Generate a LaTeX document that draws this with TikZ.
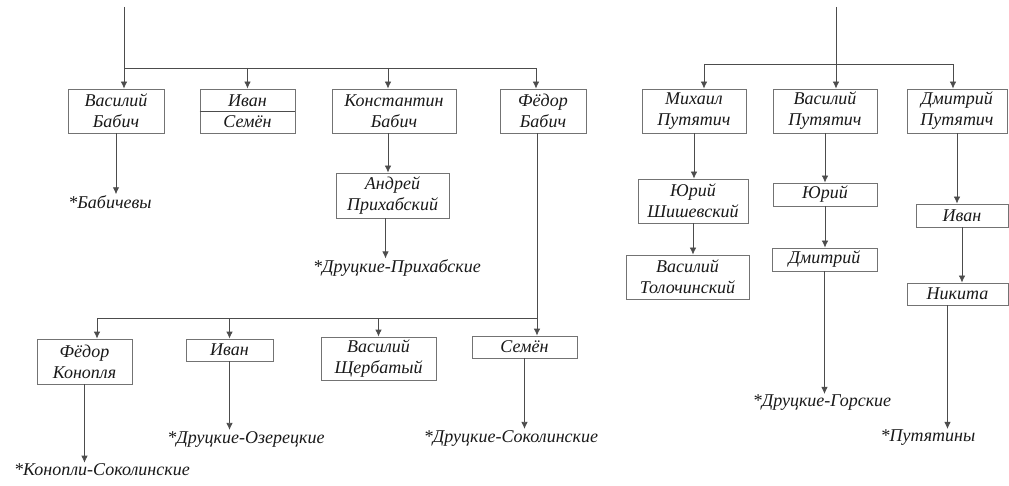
\documentclass[tikz,border=0pt]{standalone}
\usepackage{fontspec}
\setmainfont{Liberation Serif}
\usetikzlibrary{arrows.meta,calc}
\tikzset{
  node-b/.style={draw=black!55,rectangle,line width=0.8pt,inner sep=0pt,align=center,text=black!90,font=\itshape\fontsize{18}{21}\selectfont},
  node-l/.style={inner sep=1pt,text=black!90,font=\itshape\fontsize{18}{21}\selectfont},
  impl/.style={-{Latex[length=7pt,width=6.5pt]},line width=0.8pt,black!70},
  link/.style={line width=0.8pt,black!70},
}
\begin{document}
\begin{tikzpicture}[x=1pt,y=-1pt]
  \useasboundingbox (0,0) rectangle (1009,486);

  % LEFT: Бабичи
  \coordinate (rootL) at (124,7);
  \coordinate (busL)  at (124,68);
  \node[node-b,minimum width=96,minimum height=44]  (vb) at (116,111)   {Василий\\Бабич};
  \node[node-b,minimum width=95,minimum height=44]  (is) at (247.5,111) {Иван\\Семён};
  \node[node-b,minimum width=124,minimum height=44] (kb) at (394,111)   {Константин\\Бабич};
  \node[node-b,minimum width=86,minimum height=44]  (fb) at (543,111)   {Фёдор\\Бабич};
  \node[node-b,minimum width=113,minimum height=45] (ap) at (392.5,195.5) {Андрей\\Прихабский};
  \node[node-l] (lBab) at (110,202) {*Бабичевы};
  \node[node-l] (lDP)  at (397,268) {*Друцкие-Прихабские};
  \draw[link] (is.west) -- (is.east);

  \draw[impl] (rootL) -- (rootL |- vb.north);
  \draw[impl] (busL) -| ($(fb.north)+(-7,0)$);
  \draw[impl] (busL -| is.north) -- (is.north);
  \draw[impl] ($(kb.north |- busL)+(-6,0)$) -- ($(kb.north)+(-6,0)$);
  \draw[impl] (vb.south) -- (vb.south |- lBab.north);
  \draw[impl] ($(kb.south)+(-6,0)$) -- ($(kb.south |- ap.north)+(-6,0)$);
  \draw[impl] ($(ap.south)+(-7,0)$) -- ($(ap.south |- lDP.north)+(-7,0)$);

  % LEFT, lower row: сыновья Фёдора
  \coordinate (busB) at (97,318);
  \node[node-b,minimum width=95,minimum height=45]  (fk) at (84.5,361.5) {Фёдор\\Конопля};
  \node[node-b,minimum width=87,minimum height=22]  (ib) at (229.5,350)  {Иван};
  \node[node-b,minimum width=115,minimum height=43] (vs) at (378.5,358.5) {Василий\\Щербатый};
  \node[node-b,minimum width=105,minimum height=22] (sb) at (524.5,347)  {Семён};
  \node[node-l] (lKS) at (102,470) {*Конопли-Соколинские};
  \node[node-l] (lOz) at (246,439) {*Друцкие-Озерецкие};
  \node[node-l] (lDS) at (511,438) {*Друцкие-Соколинские};

  \draw[impl] ($(fb.south)+(-6,0)$) -- ($(fb.south |- sb.north)+(-6,0)$);
  \draw[link] (busB) -- ($(fb.south |- busB)+(-6,0)$);
  \draw[impl] (busB) -- (busB |- fk.north);
  \draw[impl] (busB -| ib.north) -- (ib.north);
  \draw[impl] (busB -| vs.north) -- (vs.north);
  \draw[impl] (fk.south) -- (fk.south |- lKS.north);
  \draw[impl] (ib.south) -- (ib.south |- lOz.north);
  \draw[impl] (sb.south) -- (sb.south |- lDS.north);

  % RIGHT: Путятичи
  \coordinate (rootR) at (836,7);
  \coordinate (busR)  at (704,64);
  \node[node-b,minimum width=104,minimum height=44] (mp)  at (694,111)   {Михаил\\Путятич};
  \node[node-b,minimum width=104,minimum height=44] (vp)  at (825,111)   {Василий\\Путятич};
  \node[node-b,minimum width=100,minimum height=44] (dp)  at (957,111)   {Дмитрий\\Путятич};
  \node[node-b,minimum width=110,minimum height=44] (ysh) at (693,201)   {Юрий\\Шишевский};
  \node[node-b,minimum width=104,minimum height=23] (yr)  at (825,194.5) {Юрий};
  \node[node-b,minimum width=92,minimum height=23]  (iv)  at (962,215.5) {Иван};
  \node[node-b,minimum width=123,minimum height=44] (vt)  at (687.5,277) {Василий\\Толочинский};
  \node[node-b,minimum width=105,minimum height=23] (dm)  at (824.5,259.5) {Дмитрий};
  \node[node-b,minimum width=101,minimum height=22] (nk)  at (957.5,294) {Никита};
  \node[node-l] (lDG)  at (822,403) {*Друцкие-Горские};
  \node[node-l] (lPut) at (928,438) {*Путятины};

  \draw[impl] (rootR) -- (rootR |- vp.north);
  \draw[impl] (busR) -- (busR |- mp.north);
  \draw[impl] (busR) -| ($(dp.north)+(-4,0)$);
  \draw[impl] (mp.south) -- (mp.south |- ysh.north);
  \draw[impl] (ysh.south) -- (ysh.south |- vt.north);
  \draw[impl] (vp.south) -- (vp.south |- yr.north);
  \draw[impl] (yr.south) -- (yr.south |- dm.north);
  \draw[impl] (dm.south) -- (dm.south |- lDG.north);
  \draw[impl] (dp.south) -- (dp.south |- iv.north);
  \draw[impl] (iv.south) -- (iv.south |- nk.north);
  \draw[impl] ($(nk.south)+(-10,0)$) -- ($(nk.south |- lPut.north)+(-10,0)$);

\end{tikzpicture}
\end{document}
